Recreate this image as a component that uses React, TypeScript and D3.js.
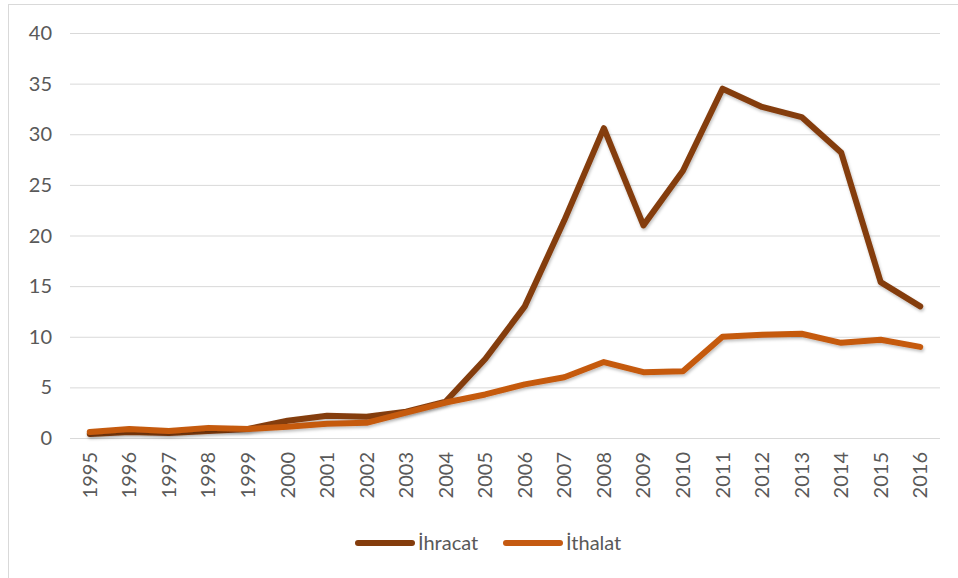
import React from 'react';
import * as d3 from 'd3';

const years = ['1995', '1996', '1997', '1998', '1999', '2000', '2001', '2002', '2003', '2004', '2005',
  '2006', '2007', '2008', '2009', '2010', '2011', '2012', '2013', '2014', '2015', '2016'];
const ihracat = [0.4, 0.6, 0.5, 0.7, 0.9, 1.7, 2.2, 2.1, 2.6, 3.6, 7.8,
  13.0, 21.5, 30.6, 21.0, 26.4, 34.5, 32.7, 31.7, 28.2, 15.4, 13.0];
const ithalat = [0.6, 0.9, 0.7, 1.0, 0.9, 1.1, 1.4, 1.5, 2.5, 3.5, 4.3,
  5.3, 6.0, 7.5, 6.5, 6.6, 10.0, 10.2, 10.3, 9.4, 9.7, 9.0];
const yTicks = [0, 5, 10, 15, 20, 25, 30, 35, 40];

const series = [
  { name: 'İhracat', values: ihracat, color: '#843C0C' },
  { name: 'İthalat', values: ithalat, color: '#C55A11' },
];

export default function App() {
  const width = 958;
  const height = 578;
  const margin = { top: 33, right: 18, bottom: 140, left: 70 };
  const innerWidth = width - margin.left - margin.right;

  const x = d3.scaleBand<string>().domain(years).range([0, innerWidth]);
  const y = d3.scaleLinear().domain([0, 40]).range([405, 0]);

  // line through band centres
  const line = d3.line<number>()
    .x((_, i) => (x(years[i]) as number) + x.bandwidth() / 2)
    .y(d => y(d));

  const font = 'Lato, "Open Sans", sans-serif';

  return (
    <>
      <style>{'body{margin:0}'}</style>
      <svg width={width} height={height} style={{ display: 'block', fontFamily: font }}>
        <defs>
          <filter id="shadow" x="-5%" y="-5%" width="110%" height="115%">
            <feDropShadow dx="1" dy="2" stdDeviation="1.5" floodColor="#000" floodOpacity="0.25" />
          </filter>
        </defs>
        <rect x={8.5} y={4.5} width={width} height={height} fill="#fff" stroke="#d9d9d9" />
        <g transform={`translate(${margin.left},${margin.top})`}>
          {yTicks.map(t => (
            <g key={t}>
              <line x1={0} x2={innerWidth} y1={y(t) + 0.5} y2={y(t) + 0.5} stroke="#d9d9d9" strokeWidth={1} />
              <text x={-18} y={y(t)} dy="0.35em" textAnchor="end" fontSize={20} fill="#595959">{t}</text>
            </g>
          ))}
          {years.map(yr => (
            <text
              key={yr}
              transform={`translate(${(x(yr) as number) + x.bandwidth() / 2},${y(0) + 14}) rotate(-90)`}
              textAnchor="end"
              dy="0.35em"
              fontSize={20}
              fill="#595959"
            >{yr}</text>
          ))}
          {series.map(s => (
            <path
              key={s.name}
              d={line(s.values) as string}
              fill="none"
              stroke={s.color}
              strokeWidth={6}
              strokeLinejoin="round"
              strokeLinecap="round"
              filter="url(#shadow)"
            />
          ))}
        </g>
        <g transform="translate(358,543)">
          {series.map((s, i) => (
            <g key={s.name} transform={`translate(${i * 148},0)`}>
              <line x1={0} x2={54} y1={0} y2={0} stroke={s.color} strokeWidth={6} strokeLinecap="round" />
              <text x={60} y={0} dy="0.35em" fontSize={20} fill="#595959">{s.name}</text>
            </g>
          ))}
        </g>
      </svg>
    </>
  );
}
